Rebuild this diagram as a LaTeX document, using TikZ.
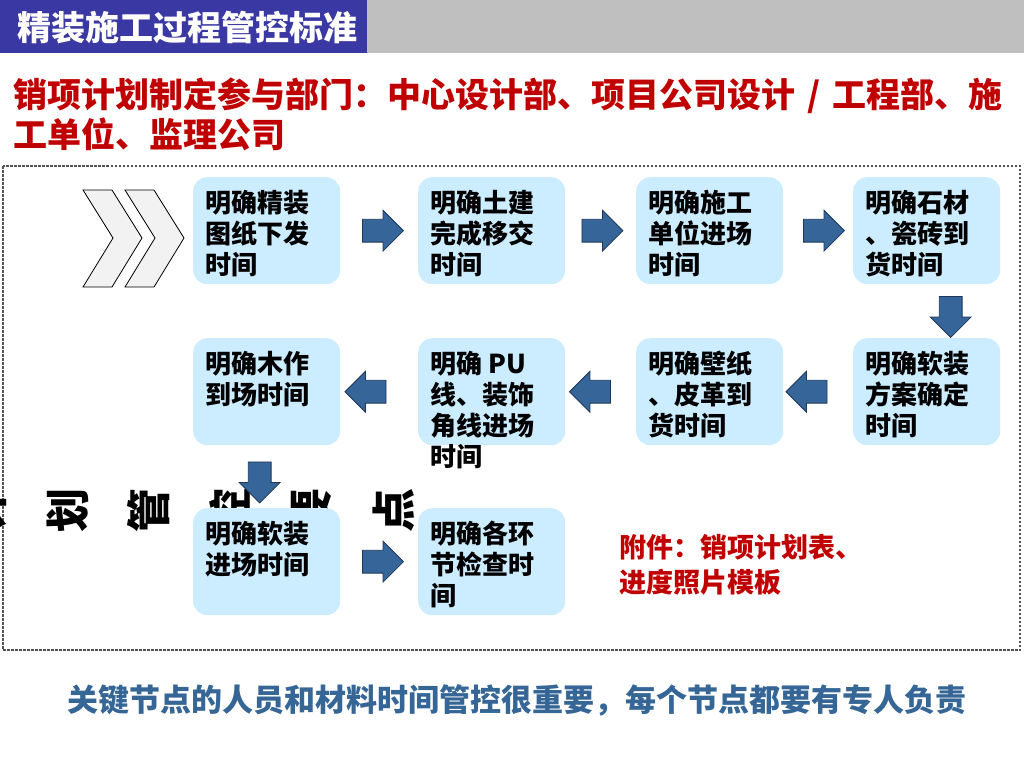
\documentclass[tikz,border=0pt]{standalone}
\usepackage{fontspec}
\setmainfont{Noto Sans CJK SC}
\usetikzlibrary{calc,shapes.arrows}

\definecolor{headblue}{RGB}{58,56,163}
\definecolor{headgrey}{RGB}{191,191,191}
\definecolor{titlered}{RGB}{192,0,0}
\definecolor{boxblue}{RGB}{204,236,255}
\definecolor{arrowfill}{RGB}{54,101,153}
\definecolor{arrowline}{RGB}{30,55,88}
\definecolor{chevgrey}{RGB}{242,242,242}
\definecolor{footblue}{RGB}{53,102,150}

\begin{document}
\begin{tikzpicture}[x=1pt, y=-1pt,
	stepbox/.style={fill=boxblue, rounded corners=14pt, minimum width=147pt, minimum height=107pt, inner sep=0pt, anchor=north west},
	steptext/.style={anchor=north west, inner sep=0pt, align=left, font=\fontsize{26}{31}\selectfont\bfseries},
	blockarrow/.style={single arrow, fill=arrowfill, draw=arrowline, line width=0.8pt, minimum height=41pt, minimum width=40pt, inner sep=11pt, single arrow head extend=9pt, single arrow tip angle=90}]
			%%%%% START %%%%%
			
			\useasboundingbox (0,0) rectangle (1024,768);
			\clip (0,0) rectangle (1024,768);
			
			% header
			\fill[headblue] (0,0) rectangle (367,53);
			\fill[headgrey] (367,0) rectangle (1024,53);
			\node[anchor=west, inner sep=0pt, text=white, font=\fontsize{34}{40}\selectfont\bfseries] (head) at (17,28) {精装施工过程管控标准};
			
			\node[anchor=north west, inner sep=0pt, align=left, text=titlered, font=\fontsize{34}{40}\selectfont\bfseries] (dept) at (13,78) {销项计划制定参与部门：中心设计部、项目公司设计\hspace{12pt}/\hspace{12pt}工程部、施\\工单位、监理公司};
			
			\draw[black!68, line width=2.5pt, dash pattern=on 2.5pt off 1.5pt] (3,166) rectangle (1020,650);
			
			% text behind the boxes
			\foreach \c [count=\i] in {计,划,管,控,要,点}
				\node[rotate=90, inner sep=0pt, font=\fontsize{44}{44}\selectfont\bfseries] (hid\i) at ({-14+81.5*(\i-1)},510) {\c};
			
			% chevrons
			\foreach \x in {83,125}
				\draw[fill=chevgrey, line width=0.8pt] (\x,190) -- ({\x+29},190) -- ({\x+59},238) -- ({\x+29},287) -- (\x,287) -- ({\x+30},238) -- cycle;
			
			% steps
			\foreach \n/\x/\y/\t in {b1/193/177/{明确精装\\图纸下发\\时间},
					b2/418/177/{明确土建\\完成移交\\时间},
					b3/636/177/{明确施工\\单位进场\\时间},
					b4/853/177/{明确石材\\、瓷砖到\\货时间},
					b5/853/338/{明确软装\\方案确定\\时间},
					b6/636/338/{明确壁纸\\、皮革到\\货时间},
					b7/418/338/{明确 PU\\线、装饰\\角线进场\\时间},
					b8/193/338/{明确木作\\到场时间},
					b9/193/508/{明确软装\\进场时间},
					b10/418/508/{明确各环\\节检查时\\间}}{
				\node[stepbox] (\n) at (\x,\y) {};
				\node[steptext] (\n t) at ([shift={(12,13)}]\n.north west) {\t};
			}
			
			% arrows
			\node[blockarrow] (a1) at ([xshift=-2pt]$(b1.east)!0.5!(b2.west)$) {};
			\node[blockarrow] (a2) at ([xshift=-4pt]$(b2.east)!0.5!(b3.west)$) {};
			\node[blockarrow] (a3) at ($(b3.east)!0.5!(b4.west)$) {};
			\node[blockarrow, shape border rotate=270] (a4) at ([xshift=24pt]$(b4.south)!0.5!(b5.north)$) {};
			\node[blockarrow, shape border rotate=180] (a5) at ([xshift=-6pt]$(b5.west)!0.5!(b6.east)$) {};
			\node[blockarrow, shape border rotate=180] (a6) at ([xshift=-5pt]$(b6.west)!0.5!(b7.east)$) {};
			\node[blockarrow, shape border rotate=180] (a7) at ([xshift=-8pt]$(b7.west)!0.5!(b8.east)$) {};
			\node[blockarrow, shape border rotate=270] (a8) at ([xshift=-7pt]$(b8.south)!0.5!(b9.north)$) {};
			\node[blockarrow] (a9) at ([xshift=-2pt]$(b9.east)!0.5!(b10.west)$) {};
			
			\node[anchor=north west, inner sep=0pt, align=left, text=titlered, font=\fontsize{27}{35}\selectfont\bfseries] (annex) at (619,534) {附件：销项计划表、\\进度照片模板};
			
			\node[anchor=west, inner sep=0pt, text=footblue, font=\fontsize{31}{36}\selectfont\bfseries] (foot) at (67,700) {关键节点的人员和材料时间管控很重要，每个节点都要有专人负责};
			
			%%%%% END %%%%%
\end{tikzpicture}
\end{document}
